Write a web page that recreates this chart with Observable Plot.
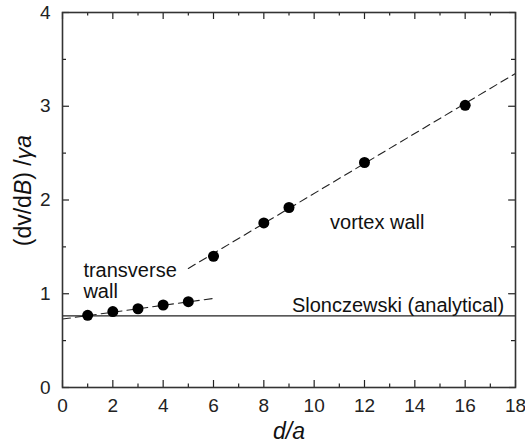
<!DOCTYPE html>
<html><head><meta charset="utf-8">
<script src="https://cdn.jsdelivr.net/npm/d3@7"></script>
<script src="https://cdn.jsdelivr.net/npm/@observablehq/plot@0.6"></script>
<style>body{margin:0;background:#fff;} svg{font-family:"Liberation Sans",Arial,Helvetica,sans-serif;}</style>
</head><body><div id="chart"></div>
<script>
// data
const transverseX = [1, 2, 3, 4, 5];
const transverseY = [0.77, 0.81, 0.84, 0.88, 0.915];
const vortexX = [6, 8, 9, 12, 16];
const vortexY = [1.40, 1.755, 1.92, 2.40, 3.01];
const slonczewski = 0.765;
const transverseFitX = [0, 6];
const transverseFitY = [0.73, 0.95];
const vortexFitX = [5, 18];
const vortexFitY = [1.27, 3.35];
const xTicks = [0, 2, 4, 6, 8, 10, 12, 14, 16, 18];
const xMinor = [1, 3, 5, 7, 9, 11, 13, 15, 17];
const yTicks = [0, 1, 2, 3, 4];
const yMinor = [0.5, 1.5, 2.5, 3.5];

const W = 525, H = 447, mL = 62, mR = 10, mT = 12, mB = 60;
const kx = (W - mL - mR) / 18, ky = (H - mT - mB) / 4;
const pts = [...transverseX.map((x, i) => ({x, y: transverseY[i]})), ...vortexX.map((x, i) => ({x, y: vortexY[i]}))];
const tFit = transverseFitX.map((x, i) => ({x, y: transverseFitY[i]}));
const vFit = vortexFitX.map((x, i) => ({x, y: vortexFitY[i]}));
const ink = "#222";
const startLabels = [
  {x: 0.83, y: 1.25, t: "transverse"},
  {x: 0.83, y: 1.025, t: "wall"},
  {x: 10.63, y: 1.76, t: "vortex wall"}
];
const endLabels = [
  {x: 17.55, y: 0.875, t: "Slonczewski (analytical)"}
];

const chart = Plot.plot({
  width: W, height: H, marginLeft: mL, marginRight: mR, marginTop: mT, marginBottom: mB,
  x: {domain: [0, 18], axis: null},
  y: {domain: [0, 4], axis: null},
  style: {fontFamily: '"Liberation Sans", Arial, Helvetica, sans-serif', background: "#fff"},
  marks: [
    // inward ticks
    Plot.ruleX(xTicks, {x: d => d, y1: 0, y2: 7 / ky, stroke: ink, strokeWidth: 1.2}),
    Plot.ruleX(xMinor, {x: d => d, y1: 0, y2: 3.5 / ky, stroke: ink, strokeWidth: 1.2}),
    Plot.ruleX(xTicks, {x: d => d, y1: 4, y2: 4 - 7 / ky, stroke: ink, strokeWidth: 1.2}),
    Plot.ruleX(xMinor, {x: d => d, y1: 4, y2: 4 - 3.5 / ky, stroke: ink, strokeWidth: 1.2}),
    Plot.ruleY(yTicks, {y: d => d, x1: 0, x2: 7 / kx, stroke: ink, strokeWidth: 1.2}),
    Plot.ruleY(yMinor, {y: d => d, x1: 0, x2: 4 / kx, stroke: ink, strokeWidth: 1.2}),
    Plot.ruleY(yTicks, {y: d => d, x1: 18, x2: 18 - 7 / kx, stroke: ink, strokeWidth: 1.2}),
    Plot.ruleY(yMinor, {y: d => d, x1: 18, x2: 18 - 4 / kx, stroke: ink, strokeWidth: 1.2}),
    Plot.axisX(xTicks, {anchor: "bottom", tickSize: 0, tickPadding: 11, fontSize: 19, fill: ink, label: null, tickFormat: d => String(d)}),
    Plot.axisY(yTicks, {anchor: "left", tickSize: 0, tickPadding: 12, fontSize: 19, fill: ink, label: null, tickFormat: d => String(d)}),
    Plot.ruleY([slonczewski], {stroke: ink, strokeWidth: 1.2}),
    Plot.line(tFit, {x: "x", y: "y", stroke: ink, strokeWidth: 1.1, strokeDasharray: "8,5"}),
    Plot.line(vFit, {x: "x", y: "y", stroke: ink, strokeWidth: 1.1, strokeDasharray: "8,5"}),
    Plot.dot(pts, {x: "x", y: "y", r: 5.5, fill: "#000"}),
    Plot.text(startLabels, {x: "x", y: "y", text: "t", textAnchor: "start", fontSize: 20, fill: "#111"}),
    Plot.text(endLabels, {x: "x", y: "y", text: "t", textAnchor: "end", fontSize: 20, fill: "#111"}),
    Plot.frame({stroke: "#333", strokeWidth: 1.6}),
    Plot.text(["x"], {frameAnchor: "bottom", lineAnchor: "bottom", dy: 51, text: d => "d/a", fontSize: 23, fontStyle: "italic", fill: "#111"}),
    Plot.text(["y"], {x: () => 0, y: () => 2.1, dx: -39, rotate: -90, text: d => "(dv/dB) /γa", fontSize: 23, fill: "#111", className: "ylab"})
  ]
});
document.getElementById("chart").appendChild(chart);
// italic B and γa in the y label
const yl = chart.querySelector(".ylab text");
if (yl) {
  yl.textContent = "";
  const parts = [["(dv/d", null], ["B", "italic"], [") /", null], ["γa", "italic"]];
  for (const [s, st] of parts) {
    const ts = document.createElementNS("http://www.w3.org/2000/svg", "tspan");
    ts.textContent = s;
    if (st) ts.setAttribute("font-style", st);
    yl.appendChild(ts);
  }
}
</script></body></html>
